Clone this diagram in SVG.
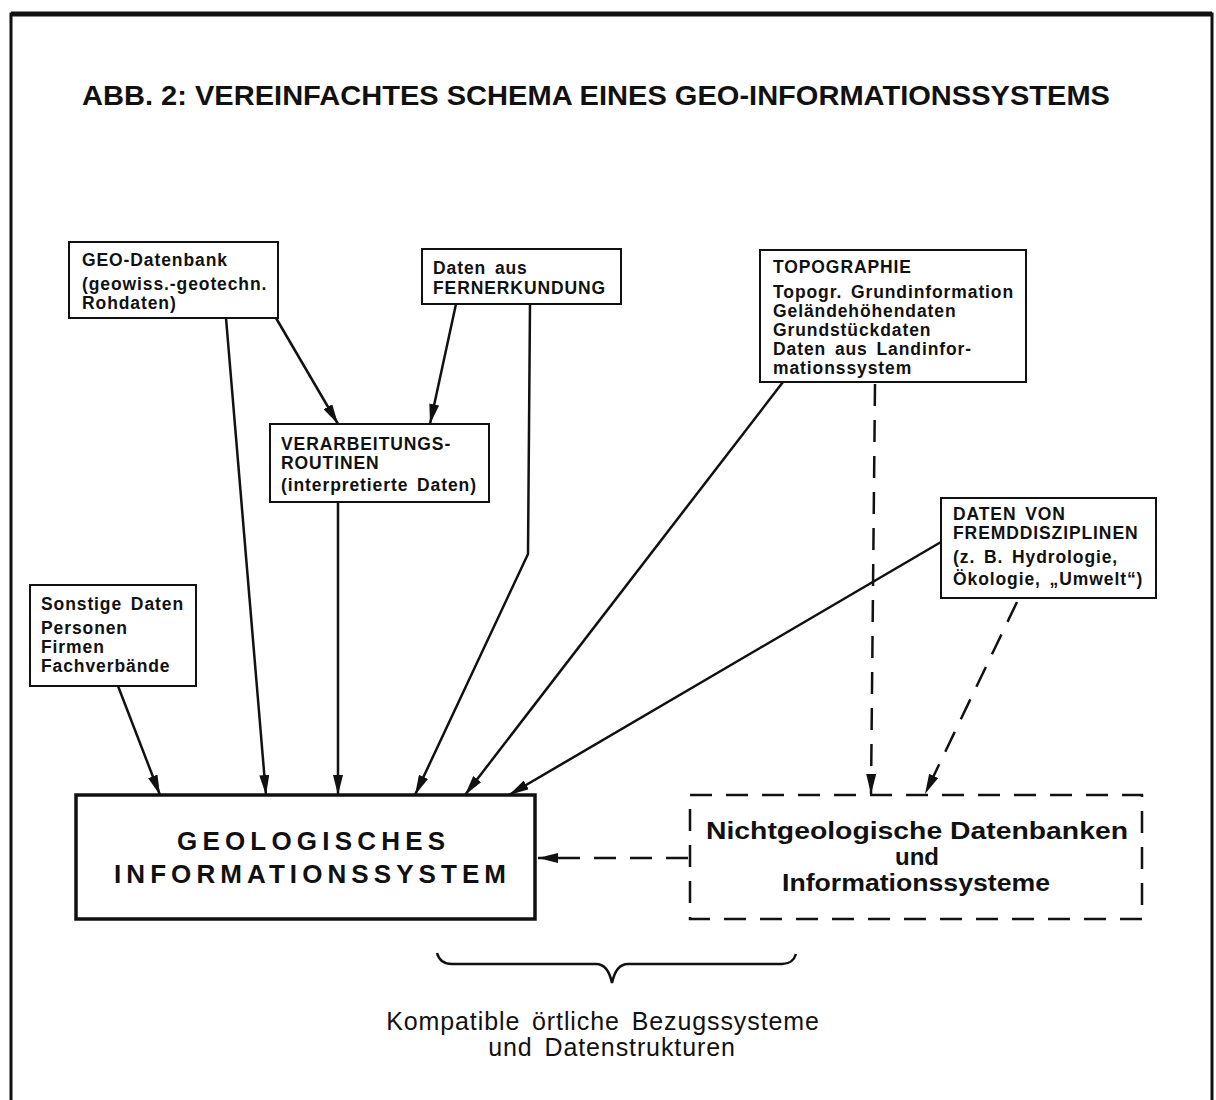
<svg xmlns="http://www.w3.org/2000/svg" width="1216" height="1100" viewBox="0 0 1216 1100">
<defs>
<marker id="ah" viewBox="0 0 20 10" refX="20" refY="5" markerWidth="20" markerHeight="10" markerUnits="userSpaceOnUse" orient="auto">
<path d="M0,0 L20,5 L0,10 Z" fill="#111"/>
</marker>
</defs>
<style>
.box{fill:#fff;stroke:#111;stroke-width:2}
.t{font-family:"Liberation Sans",Arial,sans-serif;font-weight:bold;font-size:17.5px;letter-spacing:0.9px;word-spacing:3px;fill:#111}
.c{fill:none;stroke:#111;stroke-width:2.5}
.d{fill:none;stroke:#111;stroke-width:2.5;stroke-dasharray:22 14}
.big{font-family:"Liberation Sans",Arial,sans-serif;font-weight:bold;fill:#111}
.note{font-family:"Liberation Sans",Arial,sans-serif;font-size:25px;letter-spacing:0.9px;word-spacing:4px;fill:#111}
</style>
<rect width="1216" height="1100" fill="#fff"/>
<g id="frame">
<path d="M11,1100 L11,14 L1212,14 L1212,1100" fill="none" stroke="#111" stroke-width="3"/>
<line x1="11" y1="14" x2="1212" y2="14" stroke="#111" stroke-width="5"/>
</g>
<text id="title" class="big" x="82" y="105" font-size="28" textLength="1028" lengthAdjust="spacingAndGlyphs">ABB. 2: VEREINFACHTES SCHEMA EINES GEO-INFORMATIONSSYSTEMS</text>

<g id="connectors">
<line class="c" x1="118" y1="686" x2="160" y2="795" marker-end="url(#ah)"/>
<line class="c" x1="226" y1="318" x2="266" y2="795" marker-end="url(#ah)"/>
<line class="c" x1="276" y1="318" x2="338" y2="424" marker-end="url(#ah)"/>
<line class="c" x1="456" y1="304" x2="430" y2="424" marker-end="url(#ah)"/>
<line class="c" x1="338" y1="502" x2="338" y2="795" marker-end="url(#ah)"/>
<polyline class="c" points="530,304 528,554 415,795" marker-end="url(#ah)"/>
<line class="c" x1="783" y1="382" x2="465" y2="795" marker-end="url(#ah)"/>
<line class="c" x1="941" y1="542" x2="509" y2="795" marker-end="url(#ah)"/>
<line class="d" x1="875" y1="384" x2="871" y2="794" marker-end="url(#ah)"/>
<line class="d" x1="1017" y1="602" x2="925" y2="794" marker-end="url(#ah)"/>
<line class="d" x1="688" y1="858" x2="538" y2="858" marker-end="url(#ah)"/>
</g>

<g id="geo-datenbank">
<rect class="box" x="69" y="242" width="209" height="76"/>
<text class="t" x="82" y="266">GEO-Datenbank</text>
<text class="t" x="82" y="290">(geowiss.-geotechn.</text>
<text class="t" x="82" y="309">Rohdaten)</text>
</g>
<g id="fernerkundung">
<rect class="box" x="422" y="249" width="199" height="55"/>
<text class="t" x="433" y="274">Daten aus</text>
<text class="t" x="433" y="294">FERNERKUNDUNG</text>
</g>
<g id="topographie">
<rect class="box" x="760" y="250" width="266" height="132"/>
<text class="t" x="773" y="273">TOPOGRAPHIE</text>
<text class="t" x="773" y="298">Topogr. Grundinformation</text>
<text class="t" x="773" y="317">Geländehöhendaten</text>
<text class="t" x="773" y="336">Grundstückdaten</text>
<text class="t" x="773" y="355">Daten aus Landinfor-</text>
<text class="t" x="773" y="374">mationssystem</text>
</g>
<g id="verarbeitung">
<rect class="box" x="270" y="424" width="219" height="78"/>
<text class="t" x="281" y="450">VERARBEITUNGS-</text>
<text class="t" x="281" y="469">ROUTINEN</text>
<text class="t" x="281" y="491">(interpretierte Daten)</text>
</g>
<g id="fremddisziplinen">
<rect class="box" x="941" y="498" width="215" height="100"/>
<text class="t" x="953" y="520">DATEN VON</text>
<text class="t" x="953" y="539">FREMDDISZIPLINEN</text>
<text class="t" x="953" y="563">(z. B. Hydrologie,</text>
<text class="t" x="953" y="585">Ökologie, „Umwelt“)</text>
</g>
<g id="sonstige">
<rect class="box" x="30" y="585" width="166" height="101"/>
<text class="t" x="41" y="610">Sonstige Daten</text>
<text class="t" x="41" y="634">Personen</text>
<text class="t" x="41" y="653">Firmen</text>
<text class="t" x="41" y="672">Fachverbände</text>
</g>
<g id="geologisches">
<rect x="76" y="795" width="459" height="124" fill="#fff" stroke="#111" stroke-width="3.5"/>
<text class="big" x="311" y="850" text-anchor="middle" font-size="26" textLength="268" lengthAdjust="spacing">GEOLOGISCHES</text>
<text class="big" x="310" y="883" text-anchor="middle" font-size="26" textLength="392" lengthAdjust="spacing">INFORMATIONSSYSTEM</text>
</g>
<g id="nichtgeologisch">
<rect x="690" y="795" width="452" height="124" fill="#fff" stroke="#111" stroke-width="2.5" stroke-dasharray="22 14"/>
<text class="big" x="917" y="839" text-anchor="middle" font-size="23" textLength="422" lengthAdjust="spacingAndGlyphs">Nichtgeologische Datenbanken</text>
<text class="big" x="917" y="865" text-anchor="middle" font-size="23" textLength="44" lengthAdjust="spacingAndGlyphs">und</text>
<text class="big" x="916" y="891" text-anchor="middle" font-size="23" textLength="268" lengthAdjust="spacingAndGlyphs">Informationssysteme</text>
</g>
<g id="brace">
<path d="M437,953 Q440,964 452,964 L596,964 Q608,964 612,983 Q616,964 628,964 L782,964 Q793,964 796,954" fill="none" stroke="#111" stroke-width="2.5"/>
<text class="note" x="603" y="1030" text-anchor="middle">Kompatible örtliche Bezugssysteme</text>
<text class="note" x="612" y="1056" text-anchor="middle">und Datenstrukturen</text>
</g>
</svg>
